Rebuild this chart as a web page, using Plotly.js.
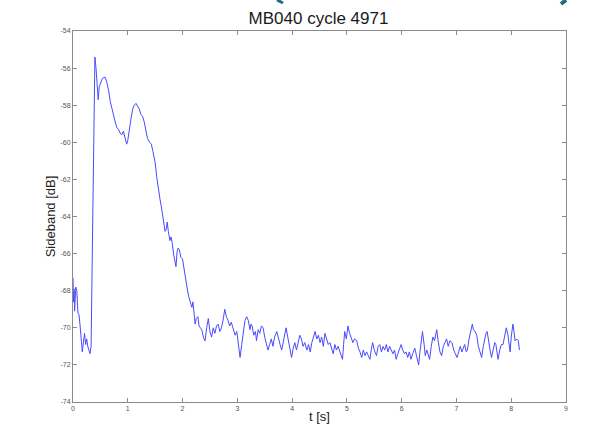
<!DOCTYPE html>
<html>
<head>
<meta charset="utf-8">
<script src="https://cdn.plot.ly/plotly-3.0.1.min.js"></script>
<style>html,body{margin:0;padding:0;background:#fff;}#chart{width:601px;height:437px;}</style>
</head>
<body>
<div id="chart"></div>
<script>
// time [s]
const tSeconds = [
0.00,0.01,0.02,0.03,0.05,0.07,0.09,0.11,0.13,0.15,0.17,0.19,0.21,0.23,0.25,0.27,0.29,0.31,0.33,0.35,
0.37,0.39,0.40,0.42,0.44,0.46,0.48,0.50,0.53,0.56,0.59,0.62,0.65,0.68,0.71,0.74,0.77,0.80,0.83,0.86,
0.89,0.92,0.95,0.98,1.00,1.03,1.06,1.09,1.12,1.15,1.18,1.21,1.24,1.27,1.30,1.33,1.36,1.40,1.43,1.46,
1.50,1.53,1.56,1.59,1.62,1.65,1.68,1.70,1.72,1.74,1.77,1.79,1.81,1.84,1.86,1.88,1.90,1.92,1.94,1.97,
2.00,2.03,2.06,2.08,2.11,2.14,2.17,2.19,2.21,2.23,2.25,2.28,2.30,2.32,2.35,2.38,2.41,2.44,2.47,2.50,
2.53,2.56,2.59,2.62,2.65,2.68,2.71,2.74,2.77,2.80,2.83,2.86,2.89,2.92,2.96,2.99,3.02,3.05,3.08,3.11,
3.14,3.17,3.20,3.23,3.25,3.27,3.30,3.33,3.35,3.38,3.41,3.44,3.47,3.50,3.53,3.56,3.59,3.62,3.65,3.68,
3.72,3.75,3.78,3.81,3.84,3.86,3.89,3.92,3.95,3.99,4.02,4.05,4.08,4.11,4.14,4.17,4.20,4.23,4.27,4.30,
4.33,4.36,4.39,4.42,4.45,4.48,4.51,4.54,4.57,4.60,4.63,4.66,4.69,4.72,4.75,4.78,4.81,4.84,4.87,4.90,
4.92,4.94,4.96,4.99,5.02,5.05,5.08,5.11,5.14,5.18,5.21,5.24,5.27,5.30,5.33,5.36,5.39,5.42,5.45,5.47,
5.50,5.54,5.57,5.60,5.63,5.66,5.69,5.72,5.75,5.78,5.81,5.84,5.87,5.90,5.93,5.96,5.99,6.02,6.05,6.08,
6.11,6.14,6.17,6.20,6.24,6.27,6.29,6.31,6.33,6.36,6.38,6.41,6.43,6.46,6.49,6.51,6.54,6.57,6.60,6.62,
6.64,6.67,6.70,6.73,6.76,6.79,6.82,6.85,6.88,6.92,6.95,6.98,7.01,7.04,7.07,7.10,7.12,7.15,7.18,7.20,
7.23,7.26,7.29,7.31,7.34,7.37,7.40,7.43,7.46,7.49,7.52,7.54,7.56,7.59,7.62,7.64,7.67,7.70,7.72,7.74,
7.76,7.79,7.82,7.85,7.88,7.91,7.94,7.96,7.98,8.00,8.03,8.05,8.07,8.10,8.13,8.15
];
// sideband level [dB]
const sidebandDb = [
-67.3,-68.6,-67.9,-69.1,-67.8,-68.0,-69.2,-69.3,-69.9,-70.6,-71.3,-70.8,-70.3,-70.9,-70.6,-71.0,-71.3,-71.4,-71.0,-67.0,
-61.5,-56.5,-55.4,-56.0,-57.0,-57.7,-57.0,-56.8,-56.6,-56.5,-56.5,-56.8,-57.2,-57.8,-58.2,-58.5,-58.9,-59.2,-59.3,-59.5,
-59.6,-59.4,-59.7,-60.1,-59.9,-59.2,-58.7,-58.2,-58.0,-57.9,-58.1,-58.2,-58.5,-58.6,-58.9,-59.3,-59.8,-60.0,-60.1,-60.5,
-61.1,-61.9,-62.6,-63.1,-63.6,-64.2,-64.8,-64.7,-64.3,-64.8,-65.3,-65.1,-65.4,-66.1,-66.5,-66.7,-65.9,-65.7,-65.8,-66.2,
-66.3,-66.9,-67.6,-67.8,-68.3,-68.6,-68.9,-68.6,-69.2,-69.8,-69.5,-69.4,-69.9,-70.0,-70.1,-70.5,-70.7,-70.0,-69.5,-70.2,
-70.5,-70.0,-70.3,-69.9,-69.8,-70.2,-70.0,-69.6,-69.0,-69.4,-69.6,-69.9,-69.7,-70.0,-70.4,-70.2,-70.8,-71.6,-70.9,-70.1,
-69.6,-69.4,-69.6,-70.1,-69.8,-69.9,-70.4,-70.2,-70.7,-70.1,-70.3,-69.9,-70.0,-70.5,-70.8,-71.2,-70.9,-70.6,-71.0,-70.5,
-70.2,-70.6,-70.9,-71.2,-70.7,-70.3,-70.0,-70.5,-71.0,-71.6,-71.1,-70.8,-71.2,-70.7,-70.4,-70.6,-71.0,-70.8,-71.2,-70.9,
-71.3,-70.8,-70.5,-70.2,-70.6,-70.4,-70.8,-70.5,-71.0,-70.3,-70.6,-70.9,-70.8,-71.1,-71.4,-70.9,-71.2,-71.0,-71.3,-71.5,
-71.7,-70.9,-70.2,-70.6,-69.9,-70.3,-70.5,-70.8,-70.6,-70.7,-71.1,-71.3,-71.6,-71.2,-71.5,-71.3,-71.5,-71.7,-71.1,-70.8,
-71.2,-71.5,-71.0,-70.9,-71.3,-71.0,-71.2,-70.9,-71.3,-71.0,-71.2,-71.4,-71.2,-71.7,-71.4,-71.1,-70.9,-71.2,-71.4,-71.3,
-71.6,-71.3,-71.7,-71.4,-71.1,-71.5,-71.8,-72.0,-71.4,-70.6,-70.2,-70.9,-71.5,-71.2,-71.6,-71.7,-71.0,-70.5,-70.7,-70.3,
-70.1,-70.8,-71.3,-71.5,-71.0,-70.8,-70.6,-71.0,-70.7,-70.8,-71.2,-71.4,-71.6,-71.3,-71.0,-71.3,-71.1,-70.9,-71.3,-71.2,
-70.6,-70.1,-69.8,-70.1,-70.2,-70.4,-71.0,-71.3,-71.6,-71.0,-70.5,-70.3,-70.2,-70.9,-71.3,-71.6,-71.1,-70.8,-70.9,-71.4,
-71.7,-71.2,-70.9,-70.9,-70.5,-70.0,-70.4,-70.9,-71.3,-70.5,-69.8,-70.2,-70.7,-70.6,-70.7,-71.2
];
const xTicks = [0,1,2,3,4,5,6,7,8,9];
const yTicks = [-74,-72,-70,-68,-66,-64,-62,-60,-58,-56,-54];
const chartTitle = 'MB040 cycle 4971';
const xLabel = 't [s]';
const yLabel = 'Sideband [dB]';

const trace = {
  x: tSeconds, y: sidebandDb, type: 'scatter', mode: 'lines',
  line: {color: '#4a4aff', width: 1}, hoverinfo: 'skip'
};

const axisCommon = {
  showgrid: false, zeroline: false, showline: true, mirror: 'ticks',
  linecolor: '#8a8a8a', linewidth: 1, ticks: 'inside', ticklen: 4,
  tickcolor: '#8a8a8a', tickwidth: 1,
  tickfont: {family: 'Liberation Sans, Arial, sans-serif', size: 7, color: '#555'}
};

const layout = {
  width: 601, height: 437,
  margin: {l: 73, r: 35, t: 31, b: 35},
  paper_bgcolor: '#ffffff', plot_bgcolor: '#ffffff',
  showlegend: false,
  title: {text: chartTitle, x: 0.53, xanchor: 'center', y: 1 - 18/437, yref: 'container', yanchor: 'middle',
          font: {family: 'Liberation Sans, Arial, sans-serif', size: 17, color: '#1a1a1a'}},
  xaxis: Object.assign({}, axisCommon, {
    range: [0, 9], tickvals: xTicks, ticktext: xTicks.map(String),
    title: {text: xLabel, standoff: 0, font: {family: 'Liberation Sans, Arial, sans-serif', size: 13, color: '#222'}}
  }),
  yaxis: Object.assign({}, axisCommon, {
    range: [-74, -54], tickvals: yTicks, ticktext: yTicks.map(String),
    title: {text: yLabel, standoff: 1, font: {family: 'Liberation Sans, Arial, sans-serif', size: 13, color: '#222'}}
  }),
  shapes: [
    {type: 'line', xref: 'paper', yref: 'paper', x0: (277-73)/493, y0: (402-0)/371, x1: (283-73)/493, y1: (402-3)/371,
     line: {color: '#1f6f7f', width: 3}},
    {type: 'line', xref: 'paper', yref: 'paper', x0: (561-73)/493, y0: (402-4)/371, x1: (566-73)/493, y1: (402-0)/371,
     line: {color: '#1f6f7f', width: 4}}
  ]
};

Plotly.newPlot('chart', [trace], layout, {displayModeBar: false, staticPlot: true});
</script>
</body>
</html>
